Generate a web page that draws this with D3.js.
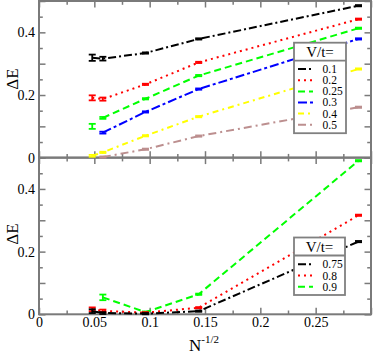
<!DOCTYPE html>
<html><head><meta charset="utf-8">
<script src="https://cdn.jsdelivr.net/npm/d3@7"></script>
<style>body{margin:0;background:#fff}svg{display:block}svg text{font-family:"Liberation Serif","DejaVu Serif",serif !important}</style>
</head><body><svg id="c" width="374" height="353"></svg>
<script>
// N^-1/2 positions
const xVals = [0.0481, 0.0577, 0.0962, 0.1443, 0.2887];
const xTicks = [0, 0.05, 0.1, 0.15, 0.2, 0.25];
const yTickLabels = [0, 0.2, 0.4];

// top panel
const topLabels = ["0.1", "0.2", "0.25", "0.3", "0.4", "0.5"];
const top01 = [0.319, 0.316, 0.334, 0.379, 0.485];
const top01err = [0.010, 0.006, 0.002, 0.002, 0.002];
const top02 = [0.191, 0.187, 0.234, 0.304, 0.442];
const top02err = [0.008, 0.005, 0.002, 0.002, 0.002];
const top025 = [null, 0.127, 0.188, 0.262, 0.413];
const top025err = [0, 0.003, 0.002, 0.002, 0.002];
const top025single = [0.100, null, null, null, null];
const top025singleErr = [0.008, 0, 0, 0, 0];
const top03 = [null, 0.080, 0.146, 0.219, 0.379];
const top03err = [0, 0.003, 0.002, 0.002, 0.002];
const top04 = [0.006, 0.017, 0.070, 0.131, 0.283];
const top04err = [0.003, 0.002, 0.002, 0.002, 0.002];
const top05 = [null, 0.002, 0.027, 0.069, 0.161];
const top05err = [0, 0.002, 0.002, 0.002, 0.002];

// bottom panel
const botLabels = ["0.75", "0.8", "0.9"];
const bot075 = [0.010, 0.004, 0.002, 0.010, 0.232];
const bot075err = [0.006, 0.003, 0.002, 0.002, 0.002];
const bot08 = [0.016, 0.011, 0.005, 0.021, 0.316];
const bot08err = [0.006, 0.004, 0.002, 0.002, 0.002];
const bot09 = [null, 0.054, 0.007, 0.064, 0.490];
const bot09err = [0, 0.009, 0.002, 0.002, 0.002];

const styles = {
  black: {color:"#000000", dash:"8,3,2,3"},
  red: {color:"#ff0000", dash:"2,4"},
  green: {color:"#00ff00", dash:"7,4"},
  blue: {color:"#0000ff", dash:"9,3,3,3"},
  yellow: {color:"#ffff00", dash:"6,4,2,4"},
  brown: {color:"#bc8f8f", dash:"8,4,2,4"}
};

const FONT = "'Liberation Serif', 'DejaVu Serif', serif";
const svg = d3.select("#c").style("font-family", FONT);
const frameCol = "#7a7a7a";
const x = d3.scaleLinear().domain([0, 0.3]).range([39, 371]);
const yTop = d3.scaleLinear().domain([0, 0.5]).range([157.7, 1]);
const yBot = d3.scaleLinear().domain([0, 0.5]).range([314.3, 157.6]);

function panel(y, showXLabels) {
  const g = svg.append("g");
  const [y0, y1] = y.range();
  const xMaj = d3.range(0, 0.3001, 0.05), xMin = d3.range(0.025, 0.3, 0.05);
  const yMaj = d3.range(0, 0.5001, 0.1), yMin = d3.range(0.05, 0.5, 0.1);
  const drawAx = (axis, transform) => {
    const a = g.append("g").attr("transform", transform).call(axis);
    a.select(".domain").remove();
    a.selectAll("line").attr("stroke", frameCol).attr("stroke-width", 1.5);
    a.selectAll("text").remove();
  };
  drawAx(d3.axisBottom(x).tickValues(xMaj).tickSize(-6.5), `translate(0,${y0})`);
  drawAx(d3.axisBottom(x).tickValues(xMin).tickSize(-3.8), `translate(0,${y0})`);
  drawAx(d3.axisTop(x).tickValues(xMaj).tickSize(-6.5), `translate(0,${y1})`);
  drawAx(d3.axisTop(x).tickValues(xMin).tickSize(-3.8), `translate(0,${y1})`);
  drawAx(d3.axisLeft(y).tickValues(yMaj).tickSize(-6.5), `translate(39,0)`);
  drawAx(d3.axisLeft(y).tickValues(yMin).tickSize(-3.8), `translate(39,0)`);
  drawAx(d3.axisRight(y).tickValues(yMaj).tickSize(-6.5), `translate(371,0)`);
  drawAx(d3.axisRight(y).tickValues(yMin).tickSize(-3.8), `translate(371,0)`);
  g.append("rect").attr("x", 39).attr("y", y1).attr("width", 332).attr("height", y0 - y1)
    .attr("fill", "none").attr("stroke", frameCol).attr("stroke-width", 2);
  const yl = g.append("g").attr("transform", "translate(39,0)")
    .call(d3.axisLeft(y).tickValues(yTickLabels).tickSize(0).tickPadding(4).tickFormat(d3.format("")));
  yl.attr("font-family", FONT);
  yl.select(".domain").remove();
  yl.selectAll("text").attr("font-size", 14).attr("fill", "#000");
  if (showXLabels) {
    const xl = g.append("g").attr("transform", `translate(0,${y0})`)
      .call(d3.axisBottom(x).tickValues(xTicks).tickSize(0).tickPadding(3).tickFormat(d3.format("")));
    xl.attr("font-family", FONT);
    xl.select(".domain").remove();
    xl.selectAll("text").attr("font-size", 14).attr("fill", "#000");
  }
  return g;
}

function series(y, vals, errs, st, drawLine) {
  const pts = xVals.map((xv, i) => ({x: xv, y: vals[i], e: errs[i]})).filter(d => d.y != null);
  const g = svg.append("g");
  if (drawLine) {
    g.append("path").datum(pts)
      .attr("d", d3.line().x(d => x(d.x)).y(d => y(d.y)))
      .attr("fill", "none").attr("stroke", st.color).attr("stroke-width", 2)
      .attr("stroke-dasharray", st.dash);
  }
  const eb = g.selectAll("g.eb").data(pts.filter(d => d.e > 0)).enter().append("g");
  const cw = 3.5;
  eb.append("line").attr("x1", d => x(d.x)).attr("x2", d => x(d.x))
    .attr("y1", d => y(d.y - d.e)).attr("y2", d => y(d.y + d.e));
  eb.append("line").attr("x1", d => x(d.x) - cw).attr("x2", d => x(d.x) + cw)
    .attr("y1", d => y(d.y - d.e)).attr("y2", d => y(d.y - d.e));
  eb.append("line").attr("x1", d => x(d.x) - cw).attr("x2", d => x(d.x) + cw)
    .attr("y1", d => y(d.y + d.e)).attr("y2", d => y(d.y + d.e));
  eb.selectAll("line").attr("stroke", st.color).attr("stroke-width", 1.8);
}

panel(yTop, false);
panel(yBot, true);

series(yTop, top05, top05err, styles.brown, true);
series(yTop, top04, top04err, styles.yellow, true);
series(yTop, top03, top03err, styles.blue, true);
series(yTop, top025, top025err, styles.green, true);
series(yTop, top025single, top025singleErr, styles.green, false);
series(yTop, top02, top02err, styles.red, true);
series(yTop, top01, top01err, styles.black, true);

series(yBot, bot09, bot09err, styles.green, true);
series(yBot, bot08, bot08err, styles.red, true);
series(yBot, bot075, bot075err, styles.black, true);

function legend(x0, y0, w, rowY, labels, sts, h) {
  const g = svg.append("g");
  g.append("rect").attr("x", x0).attr("y", y0).attr("width", w).attr("height", h)
    .attr("fill", "#fff").attr("stroke", "#808080").attr("stroke-width", 1.8);
  g.append("line").attr("x1", x0).attr("x2", x0 + w).attr("y1", y0 + 18).attr("y2", y0 + 18)
    .attr("stroke", "#808080").attr("stroke-width", 1.8);
  g.append("text").attr("x", x0 + w / 2).attr("y", y0 + 14.5).attr("text-anchor", "middle")
    .attr("font-size", 15).text("V/t=");
  labels.forEach((lab, i) => {
    const yy = rowY[i];
    g.append("line").attr("x1", x0 + 4).attr("x2", x0 + 19).attr("y1", yy).attr("y2", yy)
      .attr("stroke", sts[i].color).attr("stroke-width", 2).attr("stroke-dasharray", sts[i].dash);
    g.append("text").attr("x", x0 + 28.5).attr("y", yy + 4).attr("font-size", 11.5).text(lab);
  });
}
legend(294, 42.7, 52, [69, 80.2, 91.4, 102.4, 113.6, 124.8], topLabels,
  [styles.black, styles.red, styles.green, styles.blue, styles.yellow, styles.brown], 90.5);
legend(294, 237.5, 51, [264.3, 275.5, 286.7], botLabels,
  [styles.black, styles.red, styles.green], 57.5);

svg.append("text").attr("transform", "translate(18,79) rotate(-90)").attr("text-anchor", "middle")
  .attr("font-size", 17).text("ΔE");
svg.append("text").attr("transform", "translate(18,234) rotate(-90)").attr("text-anchor", "middle")
  .attr("font-size", 17).text("ΔE");
const nt = svg.append("text").attr("x", 189).attr("y", 350.5).attr("font-size", 17);
nt.append("tspan").text("N");
nt.append("tspan").attr("font-size", 11).attr("dy", -8).text("-1/2");
</script></body></html>
